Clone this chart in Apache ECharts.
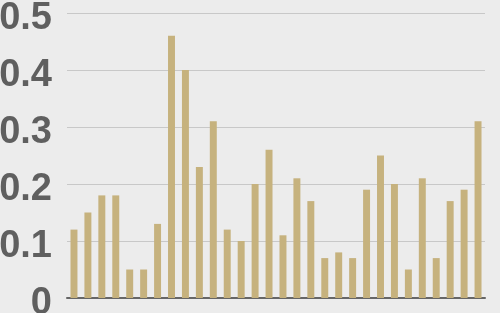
<!DOCTYPE html>
<html>
<head>
<meta charset="utf-8">
<script src="https://cdn.jsdelivr.net/npm/echarts@6/dist/echarts.min.js"></script>
<style>
html,body{margin:0;padding:0;background:#ececec;}
#main{width:500px;height:313px;}
</style>
</head>
<body>
<div id="main"></div>
<script>
const categories = Array.from({length: 30}, (_, i) => String(i + 1));
const values = [0.12, 0.15, 0.18, 0.18, 0.05, 0.05, 0.13, 0.46, 0.40, 0.23,
                0.31, 0.12, 0.10, 0.20, 0.26, 0.11, 0.21, 0.17, 0.07, 0.08,
                0.07, 0.19, 0.25, 0.20, 0.05, 0.21, 0.07, 0.17, 0.19, 0.31];
const yTicks = [0, 0.1, 0.2, 0.3, 0.4, 0.5];

const chart = echarts.init(document.getElementById('main'), null, {renderer: 'canvas'});
chart.setOption({
  backgroundColor: '#ececec',
  animation: false,
  grid: {left: 67, right: 15, top: 13, bottom: 15, containLabel: false, outerBoundsMode: 'none'},
  xAxis: {
    type: 'category',
    data: categories,
    axisLine: {show: true, lineStyle: {color: '#666666', width: 2}},
    axisTick: {show: false},
    axisLabel: {show: false}
  },
  yAxis: {
    type: 'value',
    min: 0, max: 0.5, interval: 0.1,
    axisLine: {show: false},
    axisTick: {show: false},
    splitLine: {lineStyle: {color: '#c8c8c8', width: 1}},
    axisLabel: {
      margin: 15,
      color: '#5f5f5f',
      fontSize: 38,
      fontWeight: 'bold',
      fontFamily: 'Liberation Sans, Arial, sans-serif',
      verticalAlign: 'top',
      lineHeight: 12,
      formatter: function (v) {
        const t = yTicks.find(x => Math.abs(x - v) < 1e-9);
        return t === 0 ? '0' : String(+v.toFixed(1));
      }
    }
  },
  series: [{
    type: 'bar',
    data: values,
    barWidth: '50%',
    itemStyle: {color: '#c6b27e'}
  }]
});
</script>
</body>
</html>
